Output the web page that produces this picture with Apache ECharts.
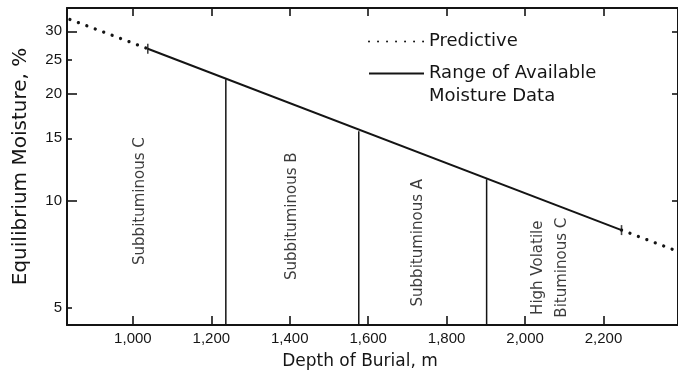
<!DOCTYPE html>
<html><head><meta charset="utf-8">
<script src="https://cdn.jsdelivr.net/npm/echarts@6/dist/echarts.min.js"></script>
<style>html,body{margin:0;padding:0;background:#fff}#chart{width:678px;height:372px}</style>
</head><body><div id="chart"></div>
<script>
// ---- data ----
const depthTicks = [1000, 1200, 1400, 1600, 1800, 2000, 2200];
const moistureTicks = [5, 10, 15, 20, 25, 30];
const moistureMajorTicks = [10, 20, 30];
const moistureMinorTicks = [5, 15, 25];
const depthRange = [832, 2390];
const moistureRange = [4.47, 34.9];

const predictiveLeftDepth = [839.5, 1038];
const predictiveLeftMoisture = [32.4, 26.8];
const predictiveRightDepth = [2246, 2386];
const predictiveRightMoisture = [8.27, 7.23];
const rangeDepth = [1038, 2246];
const rangeMoisture = [26.8, 8.27];
const boundaryDepth = [1237, 1576, 1902];
const boundaryMoisture = [22.0, 15.7, 11.5];
const rankNames = ['Subbituminous C', 'Subbituminous B', 'Subbituminous A', 'High Volatile\nBituminous C'];
const rankLabelDepth = [1018, 1406, 1727, 2063];
const rankLabelMoisture = [9.98, 9.05, 7.62, 6.48];

// ---- build ----
const INK = '#141414';
const TXT = '#151515';
const zip = (a, b) => a.map((v, i) => [v, b[i]]);
const log10 = v => Math.log10(v);
const predictiveStyle = { color: INK, width: 3.3, type: [0.01, 9], cap: 'round' };
const rangeStyle = { color: INK, width: 2 };
const hiddenSymbol = { color: 'rgba(0,0,0,0)', borderWidth: 0, opacity: 0 };

const series = [
  { name: 'Predictive', type: 'line', xAxisIndex: 0, yAxisIndex: 0, symbol: 'none', silent: true,
    itemStyle: { color: INK }, data: zip(predictiveLeftDepth, predictiveLeftMoisture), lineStyle: predictiveStyle },
  { name: 'Predictive', type: 'line', xAxisIndex: 0, yAxisIndex: 0, symbol: 'none', silent: true,
    itemStyle: { color: INK }, data: zip(predictiveRightDepth, predictiveRightMoisture), lineStyle: predictiveStyle },
  { name: 'Range of Available\nMoisture Data', type: 'line', xAxisIndex: 0, yAxisIndex: 0, symbol: 'none', silent: true,
    itemStyle: { color: INK }, data: zip(rangeDepth, rangeMoisture), lineStyle: rangeStyle },
  { name: 'rangeEnds', type: 'scatter', xAxisIndex: 0, yAxisIndex: 0, silent: true,
    symbol: 'rect', symbolSize: [1.6, 10], itemStyle: { color: INK },
    data: zip(rangeDepth, rangeMoisture) }
];
boundaryDepth.forEach((d, i) => {
  series.push({ name: 'boundary' + i, type: 'line', xAxisIndex: 0, yAxisIndex: 0, symbol: 'none', silent: true,
    data: [[d, moistureRange[0]], [d, boundaryMoisture[i]]], lineStyle: { color: INK, width: 1.5 } });
});
series.push({
  name: 'ranks', type: 'scatter', xAxisIndex: 0, yAxisIndex: 0, symbolSize: 0, silent: true,
  data: rankNames.map((n, i) => ({ name: n, value: [rankLabelDepth[i], rankLabelMoisture[i]] })),
  label: { show: true, position: 'inside', rotate: 90, formatter: p => p.name,
    fontFamily: 'DejaVu Sans', fontSize: 15, color: '#0a0a0a', lineHeight: 24, align: 'center', verticalAlign: 'middle' }
});

const tickLine = { color: INK, width: 1.6 };
const legendText = { fontFamily: 'DejaVu Sans', fontSize: 18, color: TXT, lineHeight: 23 };
const option = {
  animation: false,
  backgroundColor: '#fff',
  grid: { left: 67, right: 0, top: 8, bottom: 47, containLabel: false, outerBoundsMode: 'none' },
  legend: [
    { left: 368, top: 30, padding: 0, orient: 'vertical', itemWidth: 55, itemHeight: 14, selectedMode: false,
      itemStyle: hiddenSymbol, data: ['Predictive'], textStyle: legendText },
    { left: 368, top: 39, padding: 0, orient: 'vertical', itemWidth: 55, itemHeight: 14, selectedMode: false,
      itemStyle: hiddenSymbol, data: ['Range of Available\nMoisture Data'],
      // leading empty line keeps the sample line level with the first text line
      formatter: name => '\n' + name,
      textStyle: legendText }
  ],
  xAxis: [
    { type: 'value', position: 'bottom', min: depthRange[0], max: depthRange[1],
      axisLine: { show: true, lineStyle: { color: INK, width: 2 } },
      axisTick: { show: true, inside: true, length: 9, customValues: depthTicks, lineStyle: tickLine },
      axisLabel: { show: true, customValues: depthTicks, margin: 6, fontFamily: 'Liberation Sans', fontSize: 15, color: TXT,
        formatter: v => v.toLocaleString('en-US') },
      splitLine: { show: false },
      name: 'Depth of Burial, m', nameLocation: 'middle', nameGap: 28,
      nameTextStyle: { fontFamily: 'DejaVu Sans', fontSize: 17, color: TXT, padding: [0, 25, 0, 0] } },
    { type: 'value', position: 'top', min: depthRange[0], max: depthRange[1],
      axisLine: { show: true, lineStyle: { color: INK, width: 2 } },
      axisTick: { show: true, inside: true, length: 8, customValues: depthTicks, lineStyle: tickLine },
      axisLabel: { show: false }, splitLine: { show: false } }
  ],
  yAxis: [
    { type: 'log', position: 'left', min: moistureRange[0], max: moistureRange[1],
      axisLine: { show: true, lineStyle: { color: INK, width: 2 } },
      axisTick: { show: false }, axisLabel: { show: false }, splitLine: { show: false }, minorTick: { show: false },
      name: 'Equilibrium Moisture, %', nameLocation: 'middle', nameGap: 36,
      nameTextStyle: { fontFamily: 'DejaVu Sans', fontSize: 20, color: TXT } },
    { type: 'value', position: 'left', min: log10(moistureRange[0]), max: log10(moistureRange[1]),
      axisLine: { show: false },
      axisTick: { show: true, inside: true, length: 10, customValues: moistureMajorTicks.map(log10), lineStyle: tickLine },
      axisLabel: { show: true, customValues: moistureTicks.map(log10), margin: 5, fontFamily: 'Liberation Sans', fontSize: 15, color: TXT,
        formatter: v => String(Math.round(Math.pow(10, v))) },
      splitLine: { show: false } },
    { type: 'value', position: 'left', min: log10(moistureRange[0]), max: log10(moistureRange[1]),
      axisLine: { show: false },
      axisTick: { show: true, inside: true, length: 5, customValues: moistureMinorTicks.map(log10), lineStyle: tickLine },
      axisLabel: { show: false }, splitLine: { show: false } },
    { type: 'value', position: 'right', min: log10(moistureRange[0]), max: log10(moistureRange[1]),
      axisLine: { show: true, lineStyle: { color: INK, width: 2 } },
      axisTick: { show: true, inside: true, length: 6, customValues: moistureMajorTicks.map(log10), lineStyle: tickLine },
      axisLabel: { show: false }, splitLine: { show: false } }
  ],
  series: series
};
const chart = echarts.init(document.getElementById('chart'), null, { renderer: 'canvas' });
chart.setOption(option);
</script>
</body></html>
